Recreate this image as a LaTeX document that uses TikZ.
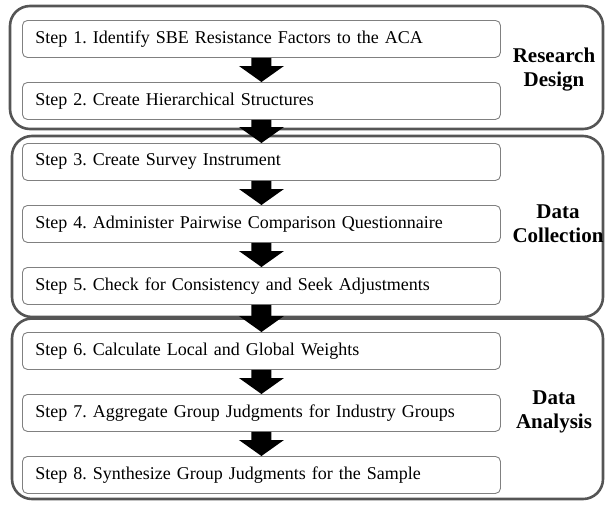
\documentclass[tikz,border=0pt]{standalone}
\usepackage{fontspec}
\setmainfont{Liberation Serif}
\usetikzlibrary{calc}
\definecolor{grpcol}{HTML}{555555}
\definecolor{stepcol}{HTML}{808080}
\tikzset{
  groupbox/.style={draw=grpcol, line width=2.6pt, rounded corners=20pt},
  stepbox/.style={draw=stepcol, line width=0.9pt, rounded corners=5pt, fill=white,
    anchor=north west, text width=452pt, inner xsep=13pt, inner ysep=0pt,
    minimum height=37pt, align=left, font=\fontsize{18}{20}\selectfont},
  grouplabel/.style={align=center, font=\fontsize{21}{24}\selectfont\bfseries},
}
\newcommand\blockarrow[2]{%
  \fill[black] ($(#1.south)+(-10,0)$) -- ($(#1.south)+(10,0)$) --
    ($(#2.north)+(10,-16)$) -- ($(#2.north)+(22.5,-16)$) -- (#2.north) --
    ($(#2.north)+(-22.5,-16)$) -- ($(#2.north)+(-10,-16)$) -- cycle;}
\frenchspacing
\begin{document}
\begin{tikzpicture}[x=1pt,y=-1pt]
\useasboundingbox (0,0) rectangle (605,504);
% groups
\draw[groupbox] (10,6) rectangle (603,129);
\draw[groupbox] (12,136) rectangle (603,317);
\draw[groupbox] (12,318.5) rectangle (603,499);
% steps
\node[stepbox] (s1) at (22,20) {Step 1. Identify SBE Resistance Factors to the ACA};
\node[stepbox] (s2) at (22,82) {Step 2. Create Hierarchical Structures};
\node[stepbox] (s3) at (22,143) {Step 3. Create Survey Instrument};
\node[stepbox] (s4) at (22,205) {Step 4. Administer Pairwise Comparison Questionnaire};
\node[stepbox] (s5) at (22,267) {Step 5. Check for Consistency and Seek Adjustments};
\node[stepbox] (s6) at (22,332) {Step 6. Calculate Local and Global Weights};
\node[stepbox] (s7) at (22,394) {Step 7. Aggregate Group Judgments for Industry Groups};
\node[stepbox] (s8) at (22,456) {Step 8. Synthesize Group Judgments for the Sample};
% labels
\node[grouplabel] (g1) at (554,70) {Research\\Design};
\node[grouplabel] (g2) at (558,224) {Data\\Collection};
\node[grouplabel] (g3) at (554,412) {Data\\Analysis};
% arrows
\blockarrow{s1}{s2}
\blockarrow{s2}{s3}
\blockarrow{s3}{s4}
\blockarrow{s4}{s5}
\blockarrow{s5}{s6}
\blockarrow{s6}{s7}
\blockarrow{s7}{s8}
\end{tikzpicture}
\end{document}
